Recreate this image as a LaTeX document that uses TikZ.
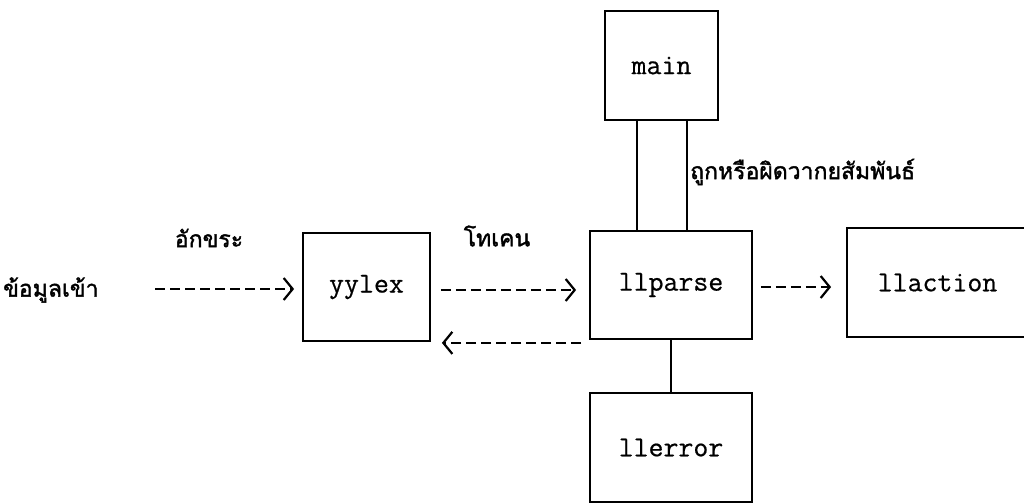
\documentclass[tikz,border=0pt]{standalone}
\usepackage{fontspec}
\newfontfamily\thaifont[Script=Thai,FakeBold=1.6]{Loma}
\newfontfamily\boxfont[FakeBold=0.6]{Latin Modern Mono}
\usetikzlibrary{arrows.meta}
\tikzset{
  box/.style={draw, line width=1.8pt, inner sep=0pt, font=\boxfont\fontsize{29}{29}\selectfont},
  dasharrow/.style={line width=2.8pt, dash pattern=on 10pt off 5pt,
    -{Straight Barb[length=9pt,width=22pt,line width=2.2pt]}},
  link/.style={line width=1.8pt},
  thai/.style={font=\thaifont\fontsize{23}{23}\selectfont, inner sep=0pt}
}
\begin{document}
\begin{tikzpicture}[x=1pt,y=-1pt]
\useasboundingbox (0,0) rectangle (1024,503);
\clip (0,0) rectangle (1024,503);
% boxes
\node[box, minimum width=113pt, minimum height=109pt] (main) at (661.5,65.5) {main};
\node[box, minimum width=127pt, minimum height=108pt] (yylex) at (366.5,287) {yylex};
\node[box, minimum width=162pt, minimum height=108pt] (llparse) at (671,285) {llparse};
\node[box, minimum width=181pt, minimum height=109pt] (llaction) at (937.5,282.5) {llaction};
\node[box, minimum width=162pt, minimum height=109pt] (llerror) at (671,447.5) {llerror};
% labels
\node[thai, anchor=west] (input) at (3,290) {ข้อมูลเข้า};
\node[thai] (chars) at (209,238) {อักขระ};
\node[thai] (token) at (497,236) {โทเคน};
\node[thai, anchor=west] (syntax) at (690,172) {ถูกหรือผิดวากยสัมพันธ์};
% links
\draw[link] ([xshift=-24.5pt]main.south) -- ([xshift=-24.5pt]main.south |- llparse.north);
\draw[link] ([xshift=25.5pt]main.south) -- ([xshift=25.5pt]main.south |- llparse.north);
\draw[link] (llparse.south) -- (llerror.north);
% arrows
\coordinate (instart) at (155,289);
\draw[dasharrow] (instart) -- ([xshift=-8pt,yshift=-2pt]yylex.west);
\draw[dasharrow] ([xshift=10pt,yshift=-3pt]yylex.east) -- ([xshift=-13pt,yshift=-5pt]llparse.west);
\draw[dasharrow] ([xshift=-8pt,yshift=-3pt]llparse.south west) -- ([xshift=11pt,yshift=-1pt]yylex.south east);
\draw[dasharrow] ([xshift=8pt,yshift=-2pt]llparse.east) -- ([xshift=-15pt,yshift=-4.5pt]llaction.west);
\end{tikzpicture}
\end{document}
